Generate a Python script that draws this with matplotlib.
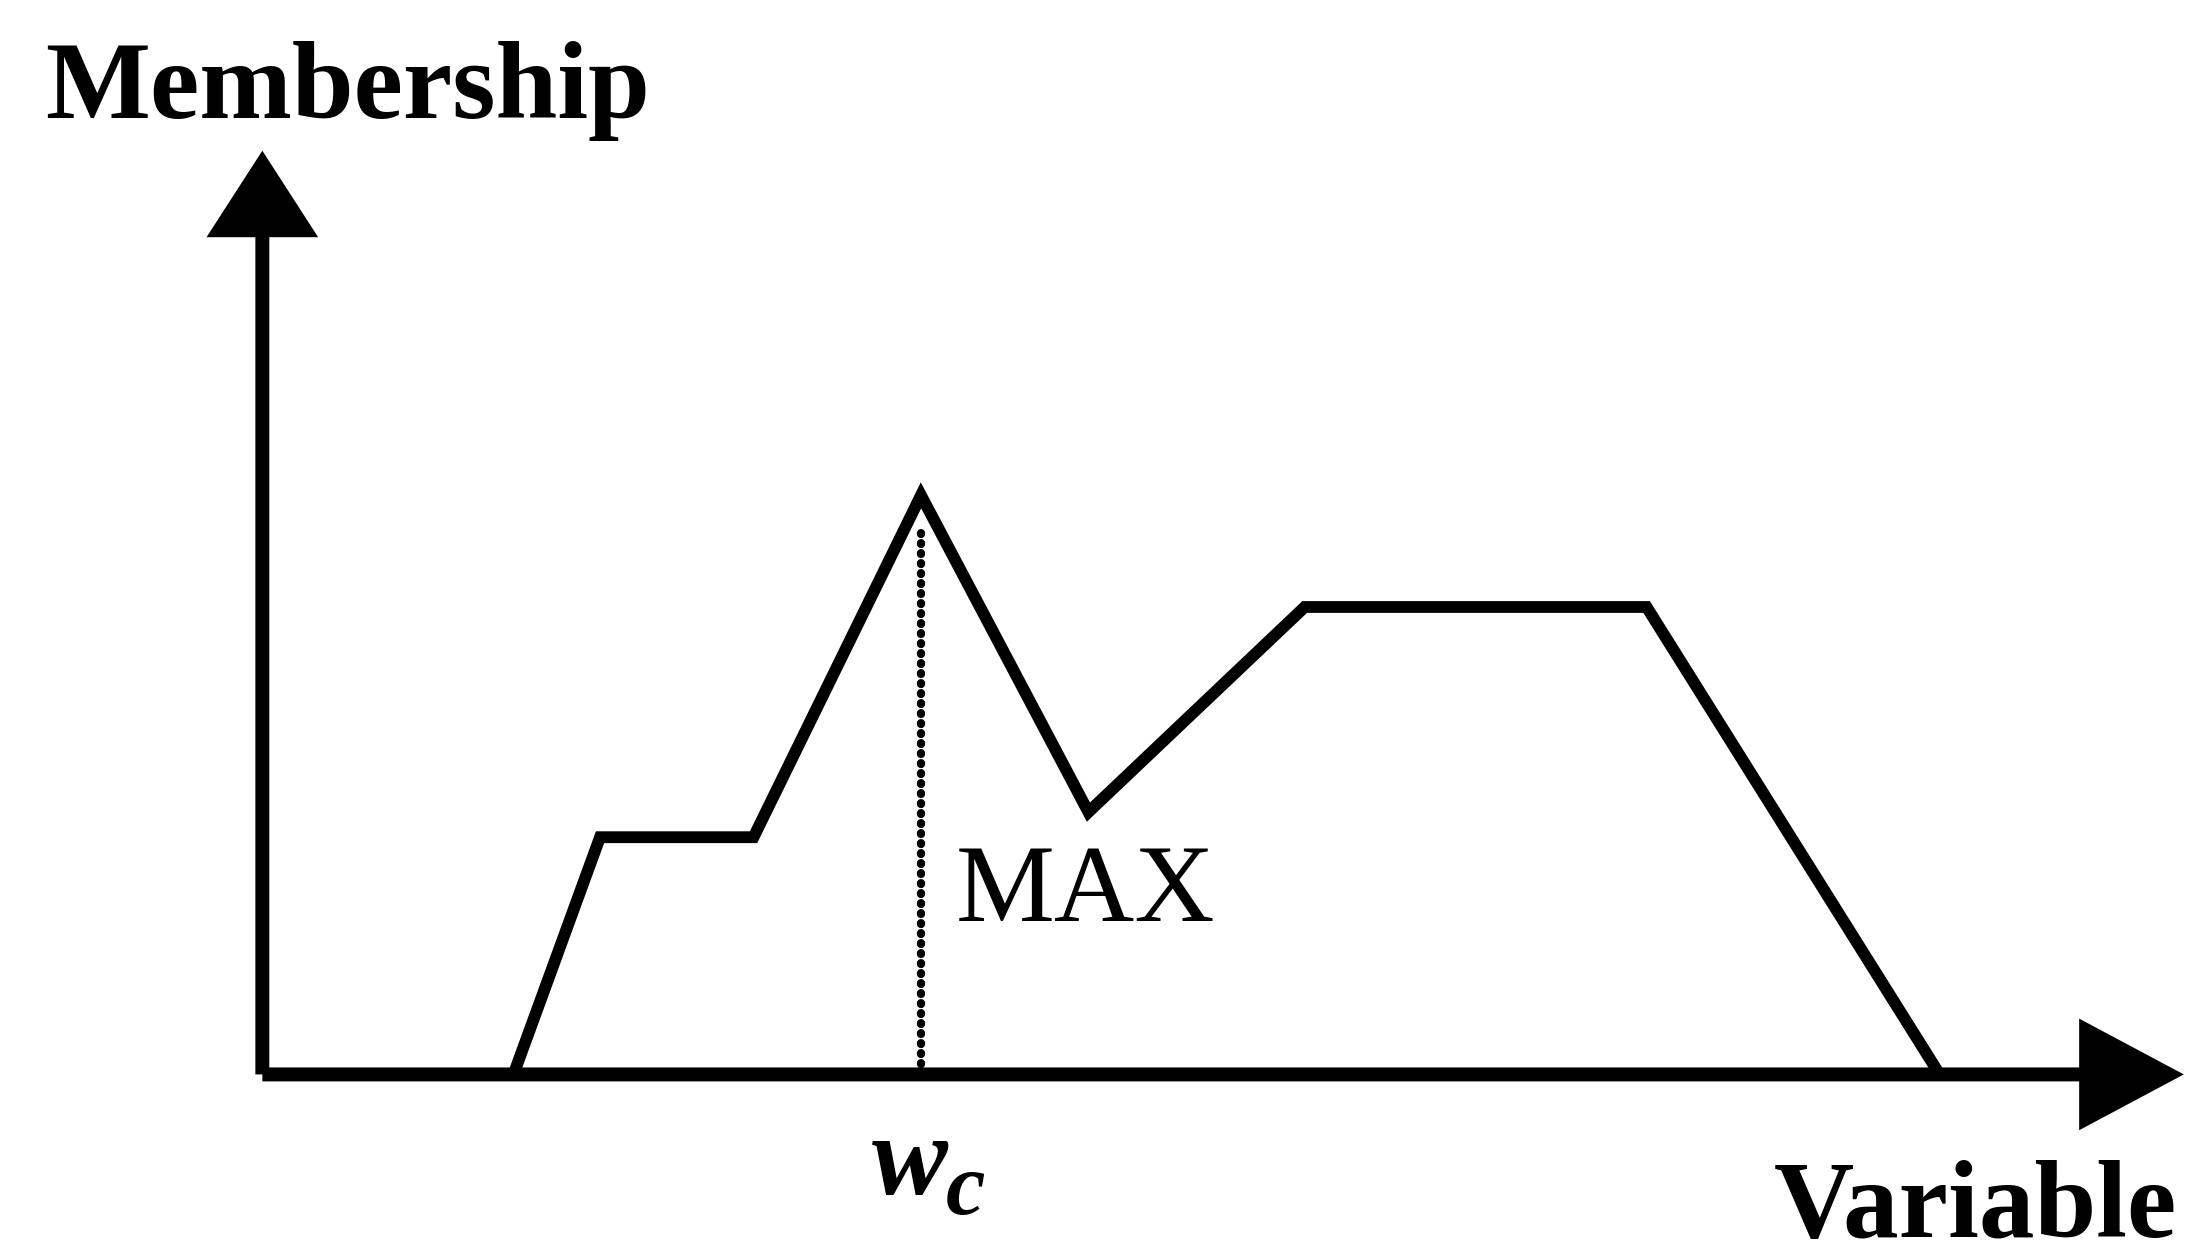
"""
Membership function sketch: aggregated fuzzy output with the MAX (mean of maximum) point w_c.
"""
import numpy as np
import matplotlib.pyplot as plt

# aggregated membership curve (variable, membership)
var_pts = [18.0, 24.2, 35.2, 47.2, 59.2, 74.7, 99.2, 120.2]
mem_pts = [0.0, 0.34, 0.34, 0.83, 0.376, 0.67, 0.67, 0.0]

# position of the maximum
w_c = 47.2
w_c_top = 0.78

x_axis_end = 137.7
y_axis_end = 1.324

plt.rcParams['font.family'] = ['Liberation Serif', 'DejaVu Serif']

fig = plt.figure(figsize=(21.88, 12.6), dpi=100)
ax = fig.add_axes([0, 0, 1, 1])
ax.set_xlim(-18.8, 138.0)
ax.set_ylim(-0.266, 1.54)
ax.axis('off')

# axes drawn as arrows
ax.arrow(0, 0, 0, y_axis_end, width=1.0, head_width=8.0, head_length=0.124,
         length_includes_head=True, color='black', lw=0)
ax.arrow(0, 0, x_axis_end, 0, width=0.02, head_width=0.16, head_length=7.5,
         length_includes_head=True, color='black', lw=0)

# curve
ax.plot(var_pts, mem_pts, color='black', lw=8.5, solid_joinstyle='miter', solid_capstyle='butt')

# dotted line at the max
ax.plot([w_c, w_c], [0, w_c_top], color='black', lw=6,
        linestyle=(0, (0.1, 1.1)), dash_capstyle='round')

ax.text(w_c + 2.5, 0.22, 'MAX', fontsize=80, va='baseline', ha='left')
# w_c label (bold italic w with subscript c)
ax.text(43.7, -0.171, 'w', fontsize=82, fontweight='bold', fontstyle='italic',
        va='baseline', ha='left')
ax.text(49.0, -0.2, 'c', fontsize=64, fontweight='bold', fontstyle='italic',
        va='baseline', ha='left')

fig.text(0.0204, 0.906, 'Membership', fontsize=80, fontweight='bold', va='baseline', ha='left')
fig.text(0.995, 0.018, 'Variable', fontsize=80, fontweight='bold', va='baseline', ha='right')

plt.savefig('out.png', dpi=100)
